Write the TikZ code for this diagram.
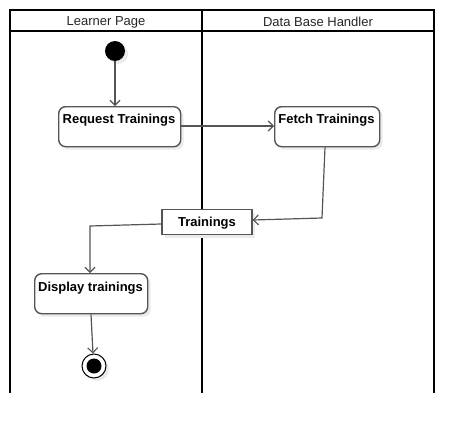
\documentclass[tikz,border=0pt]{standalone}
\usepackage{fontspec}
\setmainfont{Liberation Sans}
\usetikzlibrary{arrows.meta,shadows}
\definecolor{edge}{HTML}{555555}
\tikzset{
  lane/.style={line width=2pt, black},
  act/.style={draw=edge, line width=1.4pt, fill=white, rounded corners=7pt, minimum height=40pt, anchor=north west, inner sep=0pt, drop shadow={shadow xshift=3pt, shadow yshift=-3pt, fill=black!8, opacity=1}},
  obj/.style={draw=edge, line width=1.4pt, fill=white, inner sep=0pt, drop shadow={shadow xshift=3pt, shadow yshift=-3pt, fill=black!8, opacity=1}},
  flow/.style={draw=edge, line width=1.2pt, -{Straight Barb[length=5pt,width=10pt,line width=1.1pt]}},
  lbl/.style={font=\fontsize{13pt}{15pt}\selectfont\bfseries, text=black},
  hdr/.style={font=\fontsize{13pt}{15pt}\selectfont, text=black!85},
}
\begin{document}
\begin{tikzpicture}[x=1pt,y=-1pt]
\useasboundingbox (0,0) rectangle (474,434);
% swimlanes
\draw[lane] (10,393) -- (10,10) -- (434,10) -- (434,393);
\draw[lane] (10,31) -- (434,31);
\draw[lane] (202,10) -- (202,393);
\node[hdr] (h1) at (106,22) {Learner Page};
\node[hdr] (h2) at (318,22) {Data Base Handler};
% initial
\node[circle, fill=black, minimum size=20pt, inner sep=0pt, drop shadow={shadow xshift=3pt, shadow yshift=-3pt, fill=black!8, opacity=1}] (start) at (115,51) {};
% activities
\node[act, minimum width=122pt] (req) at (58,106) {};
\node[lbl] at (119,120.5) {Request Trainings};
\node[act, minimum width=105pt] (fetch) at (274,106) {};
\node[lbl] at (326.5,120.5) {Fetch Trainings};
\node[obj, minimum width=90pt, minimum height=25pt] (tr) at (207,222) {};
\node[lbl] at (207,223.5) {Trainings};
\node[act, minimum width=113pt] (disp) at (34,273) {};
\node[lbl] at (90.5,288.5) {Display trainings};
% final
\node[circle, draw=black, line width=1pt, fill=white, minimum size=24pt, inner sep=0pt, drop shadow={shadow xshift=3pt, shadow yshift=-3pt, fill=black!8, opacity=1}] (end) at (94,366) {};
\node[circle, fill=black, minimum size=15pt, inner sep=0pt] (endin) at (end.center) {};
% flows
\draw[flow] (start.south) -- (req.north -| start.south);
\draw[flow] (req.east |- 0,126) -- (fetch.west |- 0,126);
\coordinate (c1) at (322,218);
\draw[flow] (fetch.south -| 325,0) -- (c1) -- (tr.east |- 0,220);
\coordinate (c2) at (90,226);
\draw[flow] (tr.west |- 0,224) -- (c2) -- (disp.north -| c2);
\draw[flow] (disp.south -| 91,0) -- (end.north -| 93,0);
\end{tikzpicture}
\end{document}
